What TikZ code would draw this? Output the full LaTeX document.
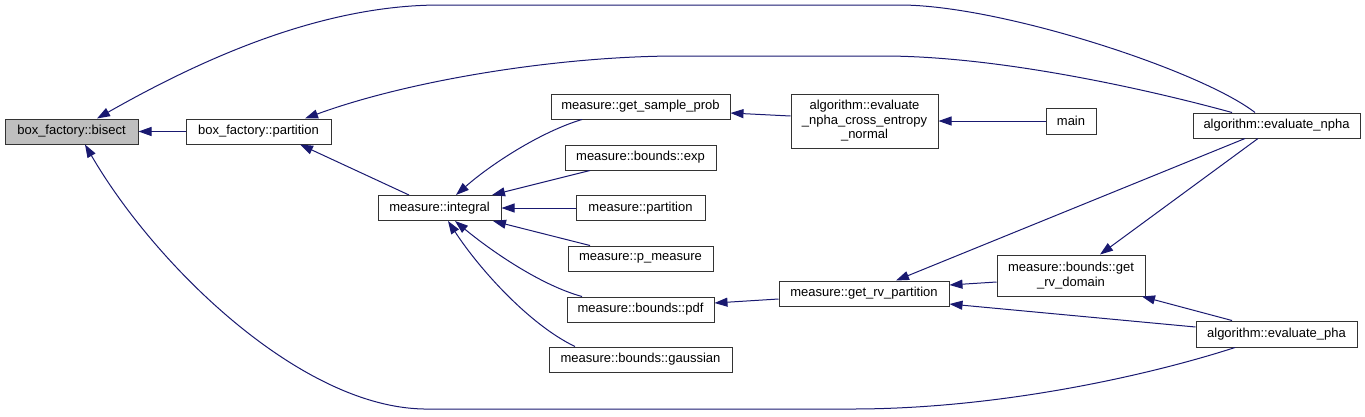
\documentclass[tikz,border=0pt]{standalone}
\usepackage{fontspec}
\setmainfont{Liberation Sans}
\usetikzlibrary{arrows.meta}
\definecolor{edgecol}{HTML}{191970}
\definecolor{bordercol}{HTML}{333333}
\definecolor{hilite}{HTML}{BFBFBF}
\begin{document}
\begin{tikzpicture}[x=1pt,y=-1pt,
  fn/.style={draw=bordercol, line width=1pt, fill=white, inner sep=0pt,
    minimum height=25pt, font=\fontsize{13}{14.5}\selectfont, align=center},
  calledge/.style={draw=edgecol, line width=1pt, -{Triangle[length=13pt,width=9pt]}}]
\useasboundingbox (0,0) rectangle (1365,416);

% nodes
\node[fn, fill=hilite, minimum width=133pt] (bisect) at (71.5,131.5) {box\_factory::bisect};
\node[fn, minimum width=145pt] (bpart) at (258.5,131.5) {box\_factory::partition};
\node[fn, minimum width=123pt] (integral) at (439.5,208) {measure::integral};
\node[fn, minimum width=179pt] (gsp) at (640.5,106.5) {measure::get\_sample\_prob};
\node[fn, minimum width=151pt] (exp) at (640.5,157.5) {measure::bounds::exp};
\node[fn, minimum width=129pt] (mpart) at (640.5,208) {measure::partition};
\node[fn, minimum width=145pt] (pmeas) at (640.5,258.5) {measure::p\_measure};
\node[fn, minimum width=147pt] (pdf) at (640.5,309.5) {measure::bounds::pdf};
\node[fn, minimum width=183pt] (gauss) at (640.5,359.5) {measure::bounds::gaussian};
\node[fn, minimum width=147pt, minimum height=54pt] (cross) at (864.5,121) {algorithm::evaluate\\\_npha\_cross\_entropy\\\_normal};
\node[fn, minimum width=50pt, minimum height=26pt] (main) at (1071,121) {main};
\node[fn, minimum width=167pt] (enpha) at (1276.5,125.5) {algorithm::evaluate\_npha};
\node[fn, minimum width=170pt] (grvp) at (864,293.5) {measure::get\_rv\_partition};
\node[fn, minimum width=148pt, minimum height=41pt] (grvd) at (1071,275.5) {measure::bounds::get\\\_rv\_domain};
\node[fn, minimum width=161pt, minimum height=26pt] (epha) at (1276.5,334) {algorithm::evaluate\_pha};

% edges
\draw[calledge] (bpart.west) -- (bisect.east);
\draw[calledge] ([xshift=-21.5pt]enpha.north) .. controls (1200,70) and (1000,5) .. (900,5)
  -- (440,5) .. controls (320,5) and (200,60) .. ([xshift=25.5pt]bisect.north);
\draw[calledge] ([xshift=-44.5pt]enpha.north) .. controls (1150,90) and (1000,56) .. (883,56)
  -- (678,56) .. controls (560,56) and (410,80) .. ([xshift=46.5pt]bpart.north);
\draw[calledge] ([xshift=-41.5pt]epha.south) .. controls (1150,375) and (1000,409) .. (852,409)
  -- (424,409) .. controls (300,407) and (155,265) .. ([xshift=13.5pt]bisect.south);
\draw[calledge] ([xshift=-30.5pt]integral.north) -- ([xshift=41.5pt]bpart.south);
\draw[calledge] ([xshift=-58.5pt]gsp.south) .. controls (540,132) and (490,165) .. ([xshift=16.5pt]integral.north);
\draw[calledge] ([xshift=-50.5pt]exp.south) -- ([xshift=52.5pt]integral.north);
\draw[calledge] (mpart.west) -- (integral.east);
\draw[calledge] ([xshift=-50.5pt]pmeas.north) -- ([xshift=53.5pt]integral.south);
\draw[calledge] ([xshift=-58.5pt]pdf.north) .. controls (540,285) and (490,250) .. ([xshift=15.5pt]integral.south);
\draw[calledge] ([xshift=-65.5pt]gauss.north) .. controls (530,325) and (480,270) .. ([xshift=8.5pt]integral.south);
\draw[calledge] ([yshift=5pt]cross.west) -- ([yshift=-6.5pt]gsp.east);
\draw[calledge] (main.west) -- (cross.east);
\draw[calledge] ([yshift=-5.5pt]grvp.west) -- ([yshift=6.5pt]pdf.east);
\draw[calledge] ([xshift=-31.5pt]enpha.south) -- ([xshift=32pt]grvp.north);
\draw[calledge] ([xshift=-18.5pt]enpha.south) -- ([xshift=29pt]grvd.north);
\draw[calledge] ([yshift=-6.5pt]grvd.west) -- ([yshift=8.5pt]grvp.east);
\draw[calledge] ([yshift=7pt]epha.west) -- ([yshift=-10.5pt]grvp.east);
\draw[calledge] ([xshift=-44.5pt]epha.north) -- ([xshift=71pt]grvd.south);
\end{tikzpicture}
\end{document}
